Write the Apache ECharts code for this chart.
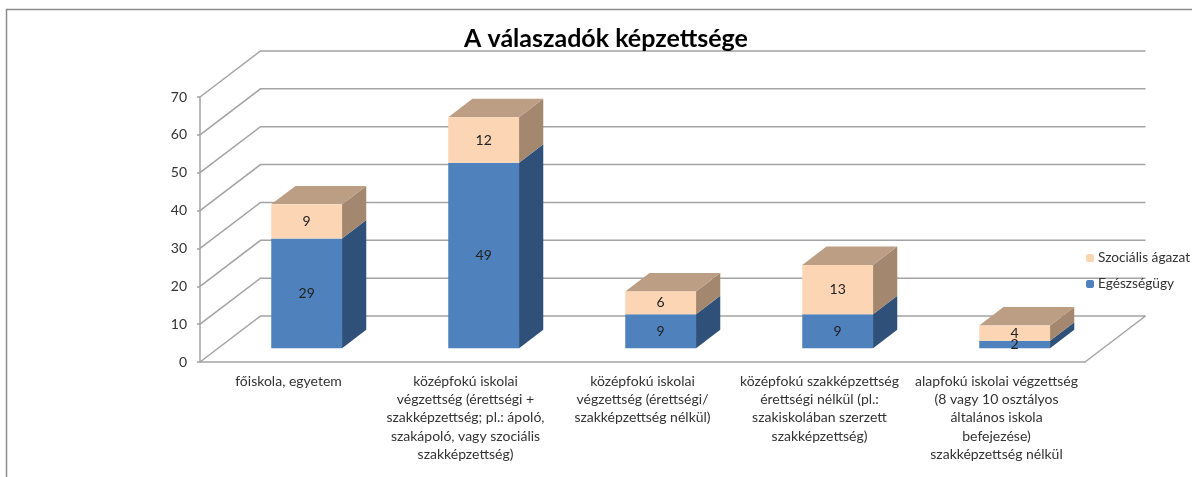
<!DOCTYPE html>
<html>
<head>
<meta charset="utf-8">
<title>A válaszadók képzettsége</title>
<script src="https://cdn.jsdelivr.net/npm/echarts@6/dist/echarts.min.js"></script>
<style>
  html, body { margin: 0; padding: 0; background: #fff; }
  #chart { width: 1192px; height: 477px; }
</style>
</head>
<body>
<div id="chart"></div>
<script>
var categories = [
  'főiskola, egyetem',
  'középfokú iskolai\nvégzettség (érettségi +\nszakképzettség; pl.: ápoló,\nszakápoló, vagy szociális\nszakképzettség)',
  'középfokú iskolai\nvégzettség (érettségi/\nszakképzettség nélkül)',
  'középfokú szakképzettség\nérettségi nélkül (pl.:\nszakiskolában szerzett\nszakképzettség)',
  'alapfokú iskolai végzettség\n(8 vagy 10 osztályos\náltalános iskola\nbefejezése)\nszakképzettség nélkül'
]
var egeszsegugy = [29, 49, 9, 9, 2]
var szocialis = [9, 12, 6, 13, 4]
var yTicks = [0, 10, 20, 30, 40, 50, 60, 70]

var FONT = 'Lato, "Open Sans", sans-serif'
var TEXT = '#333333'
var GRID_LINE = '#a3a3a3'

// 3d look: how far the back wall is pushed from the front of the floor
var DEPTH_X = 60.5
var DEPTH_Y = 46
// bar sits between these fractions of the depth
var BAR_FRONT = 0.3
var BAR_BACK = 0.7
var BAR_WIDTH = 0.4

function stackData(values, below) {
  return values.map(function (v, i) {
    return [i, below[i], below[i] + v, v]
  })
}

function poly(points, color) {
  return { type: 'polygon', shape: { points: points }, style: { fill: color } }
}

function renderWall(params, api) {
  var grid = params.coordSys
  var y = api.coord([0, api.value(0)])[1]
  var left = grid.x
  var backY = y - DEPTH_Y
  var children = [{
    type: 'polyline',
    shape: { points: [[left, y], [left + DEPTH_X, backY], [grid.x + grid.width + DEPTH_X, backY]] },
    style: { stroke: GRID_LINE, lineWidth: 1.5, fill: 'none' }
  }]
  if (api.value(0) === 0) {
    children.push({
      type: 'line',
      shape: { x1: grid.x + grid.width, y1: y, x2: grid.x + grid.width + DEPTH_X, y2: backY },
      style: { stroke: GRID_LINE, lineWidth: 1.5 }
    })
  }
  return { type: 'group', children: children }
}

function renderBox(front, side, top, drawTop) {
  return function (params, api) {
    var low = api.coord([api.value(0), api.value(1)])
    var high = api.coord([api.value(0), api.value(2)])
    var w = api.size([1, 0])[0] * BAR_WIDTH
    var x0 = low[0] + DEPTH_X * BAR_FRONT - w / 2
    var x1 = x0 + w
    var y0 = low[1] - DEPTH_Y * BAR_FRONT
    var y1 = high[1] - DEPTH_Y * BAR_FRONT
    var dx = DEPTH_X * (BAR_BACK - BAR_FRONT)
    var dy = DEPTH_Y * (BAR_BACK - BAR_FRONT)
    var children = [
      poly([[x1, y0], [x1 + dx, y0 - dy], [x1 + dx, y1 - dy], [x1, y1]], side)
    ]
    if (drawTop) {
      children.push(poly([[x0, y1], [x1, y1], [x1 + dx, y1 - dy], [x0 + dx, y1 - dy]], top))
    }
    children.push(poly([[x0, y0], [x1, y0], [x1, y1], [x0, y1]], front))
    children.push({
      type: 'text',
      z2: 10,
      style: {
        text: String(api.value(3)),
        x: (x0 + x1) / 2,
        y: (y0 + y1) / 2,
        align: 'center',
        verticalAlign: 'middle',
        fill: '#222222',
        font: '14px ' + FONT
      }
    })
    return { type: 'group', children: children }
  }
}

var chart = echarts.init(document.getElementById('chart'))

chart.setOption({
  animation: false,
  backgroundColor: '#ffffff',
  title: {
    text: 'A válaszadók képzettsége',
    left: 601,
    top: 21,
    textAlign: 'center',
    textStyle: { fontFamily: FONT, fontSize: 25, fontWeight: 'bold', color: '#000000' }
  },
  legend: {
    orient: 'vertical',
    left: 1081,
    top: 246,
    itemWidth: 8,
    itemHeight: 8,
    itemGap: 12,
    selectedMode: false,
    data: ['Szociális ágazat', 'Egészségügy'],
    textStyle: { fontFamily: FONT, fontSize: 13.7, color: TEXT, padding: [0, 0, 0, -1] }
  },
  grid: { left: 200, right: 107, top: 97, height: 265 },
  xAxis: {
    type: 'category',
    data: categories,
    axisLine: { lineStyle: { color: GRID_LINE, width: 1.5 } },
    axisTick: { length: 4, lineStyle: { color: GRID_LINE, width: 1.5 } },
    axisLabel: {
      interval: 0,
      margin: 10,
      lineHeight: 18.3,
      fontFamily: FONT,
      fontSize: 14,
      color: TEXT,
      hideOverlap: false
    }
  },
  yAxis: {
    type: 'value',
    min: 0,
    max: 70,
    interval: 10,
    splitLine: { show: false },
    axisLine: { show: true, lineStyle: { color: GRID_LINE, width: 1.5 } },
    axisTick: { show: true, length: 3, lineStyle: { color: GRID_LINE, width: 1.5 } },
    axisLabel: { margin: 13, fontFamily: FONT, fontSize: 14, color: TEXT }
  },
  graphic: [
    {
      type: 'polyline',
      silent: true,
      shape: { points: [[6.5, 477], [6.5, 9.5], [1192, 9.5]] },
      style: { stroke: '#8c8c8c', lineWidth: 1.5, fill: 'none' }
    }
  ],
  series: [
    {
      name: 'wall',
      type: 'custom',
      silent: true,
      renderItem: renderWall,
      data: yTicks.map(function (t) { return [t] }),
      encode: { y: 0 }
    },
    {
      name: 'Egészségügy',
      type: 'custom',
      renderItem: renderBox('#4f81bd', '#2f5078', '#3f6797', false),
      itemStyle: { color: '#4f81bd' },
      data: stackData(egeszsegugy, [0, 0, 0, 0, 0]),
      encode: { x: 0, y: [1, 2] }
    },
    {
      name: 'Szociális ágazat',
      type: 'custom',
      renderItem: renderBox('#fcd5b5', '#a3876f', '#bc9e85', true),
      itemStyle: { color: '#fcd5b5' },
      data: stackData(szocialis, egeszsegugy),
      encode: { x: 0, y: [1, 2] }
    }
  ]
})
</script>
</body>
</html>
